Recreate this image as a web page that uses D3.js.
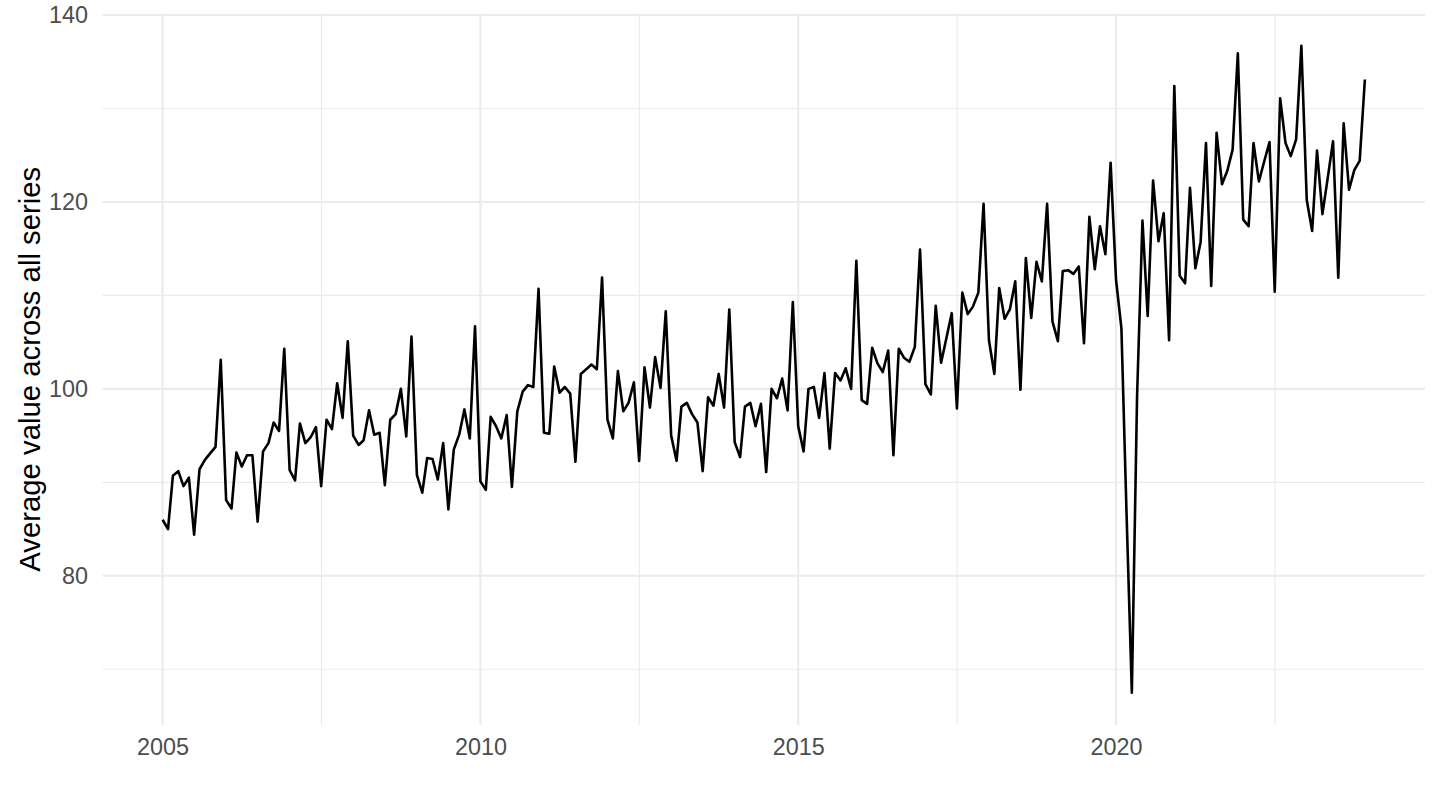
<!DOCTYPE html>
<html>
<head>
<meta charset="utf-8">
<script src="https://cdn.jsdelivr.net/npm/d3@7"></script>
<style>
    body { margin: 0; background: #ffffff; }
    svg { display: block; font-family: "Liberation Sans", Arial, Helvetica, sans-serif; }
    .axis text { fill: #4d4d4d; font-size: 23.4px; }
    .axis path, .axis line { display: none; }
    .axis-title { fill: #000000; font-size: 29.3px; }
</style>
</head>
<body>
<div id="chart"></div>
<script>
// one row per year, Jan..Dec
const years = [2005, 2006, 2007, 2008, 2009, 2010, 2011, 2012, 2013, 2014,
    2015, 2016, 2017, 2018, 2019, 2020, 2021, 2022, 2023];
const monthlyValues = [
    [86.0, 85.0, 90.7, 91.2, 89.6, 90.5, 84.4, 91.4, 92.4, 93.1, 93.8, 103.1],
    [88.1, 87.2, 93.2, 91.7, 92.9, 92.9, 85.8, 93.3, 94.2, 96.4, 95.5, 104.3],
    [91.3, 90.2, 96.3, 94.2, 94.8, 95.9, 89.6, 96.7, 95.7, 100.6, 96.9, 105.1],
    [95.0, 94.0, 94.5, 97.7, 95.1, 95.3, 89.7, 96.7, 97.3, 100.0, 94.9, 105.6],
    [90.8, 88.9, 92.6, 92.5, 90.3, 94.2, 87.1, 93.5, 95.1, 97.8, 94.7, 106.7],
    [90.1, 89.2, 97.0, 96.0, 94.7, 97.2, 89.5, 97.6, 99.7, 100.4, 100.2, 110.7],
    [95.3, 95.2, 102.4, 99.6, 100.2, 99.5, 92.2, 101.6, 102.1, 102.6, 102.1, 111.9],
    [96.7, 94.7, 101.9, 97.6, 98.5, 100.7, 92.3, 102.3, 98.0, 103.4, 100.1, 108.3],
    [95.0, 92.3, 98.1, 98.5, 97.3, 96.4, 91.2, 99.1, 98.2, 101.6, 98.0, 108.5],
    [94.3, 92.7, 98.1, 98.5, 96.0, 98.4, 91.1, 100.0, 99.0, 101.1, 97.7, 109.3],
    [96.0, 93.3, 100.0, 100.2, 96.9, 101.7, 93.6, 101.7, 100.9, 102.2, 100.0, 113.7],
    [98.8, 98.4, 104.4, 102.7, 101.8, 104.1, 92.9, 104.3, 103.3, 102.9, 104.5, 114.9],
    [100.5, 99.4, 108.9, 102.8, 105.4, 108.1, 97.9, 110.3, 108.0, 108.8, 110.3, 119.8],
    [105.2, 101.6, 110.8, 107.5, 108.5, 111.5, 99.9, 114.0, 107.6, 113.6, 111.5, 119.8],
    [107.2, 105.1, 112.6, 112.7, 112.3, 113.1, 104.9, 118.4, 112.8, 117.4, 114.4, 124.2],
    [111.7, 106.5, 87.0, 67.5, 99.2, 118.0, 107.8, 122.3, 115.8, 118.8, 105.2, 132.4],
    [112.1, 111.3, 121.5, 112.9, 115.7, 126.3, 111.0, 127.4, 121.9, 123.3, 125.6, 135.9],
    [118.1, 117.4, 126.3, 122.2, 124.3, 126.4, 110.4, 131.1, 126.3, 124.9, 126.7, 136.7],
    [120.2, 116.9, 125.5, 118.7, 122.5, 126.5, 111.9, 128.4, 121.3, 123.4, 124.4, 133.1],
];
const xTickYears = [2005, 2010, 2015, 2020];
const xMinorYears = [2007.5, 2012.5, 2017.5, 2022.5];
const yTicks = [80, 100, 120, 140];
const yMinorTicks = [70, 90, 110, 130];
const yTitle = "Average value across all series";

class TimeLineChart {
    constructor(_config) {
        this.config = {
            parentElement: _config.parentElement,
            containerWidth: _config.containerWidth || 1440,
            containerHeight: _config.containerHeight || 810,
            margin: _config.margin || { top: 13.5, right: 15, bottom: 85, left: 102.5 },
            expand: 0.05,
        };
        this.initVis();
    }

    initVis() {
        let vis = this;

        vis.width = vis.config.containerWidth - vis.config.margin.left - vis.config.margin.right;
        vis.height = vis.config.containerHeight - vis.config.margin.top - vis.config.margin.bottom;

        vis.data = [];
        years.forEach((yr, i) => {
            monthlyValues[i].forEach((v, m) => {
                vis.data.push({ date: new Date(yr, m, 1), value: v });
            });
        });

        vis.svg = d3
            .select(vis.config.parentElement)
            .append("svg")
            .attr("width", vis.config.containerWidth)
            .attr("height", vis.config.containerHeight);

        vis.chart = vis.svg
            .append("g")
            .attr("transform", `translate(${vis.config.margin.left},${vis.config.margin.top})`);

        // ggplot-like 5% expansion on both axes
        const xExt = d3.extent(vis.data, (d) => d.date.getTime());
        const xPad = (xExt[1] - xExt[0]) * vis.config.expand;
        vis.xScale = d3.scaleTime()
            .domain([new Date(xExt[0] - xPad), new Date(xExt[1] + xPad)])
            .range([0, vis.width]);

        const yExt = d3.extent(vis.data, (d) => d.value);
        const yPad = (yExt[1] - yExt[0]) * vis.config.expand;
        vis.yScale = d3.scaleLinear()
            .domain([yExt[0] - yPad, yExt[1] + yPad])
            .range([vis.height, 0]);

        vis.renderVis();
    }

    yearToDate(y) {
        const yr = Math.floor(y);
        const start = new Date(yr, 0, 1).getTime();
        const end = new Date(yr + 1, 0, 1).getTime();
        return new Date(start + (end - start) * (y - yr));
    }

    renderVis() {
        let vis = this;
        const grid = vis.chart.append("g").attr("class", "grid");

        grid.selectAll(".y-minor")
            .data(yMinorTicks)
            .join("line")
            .attr("class", "y-minor")
            .attr("x1", 0)
            .attr("x2", vis.width)
            .attr("y1", (d) => vis.yScale(d))
            .attr("y2", (d) => vis.yScale(d))
            .attr("stroke", "#ebebeb")
            .attr("stroke-width", 1.1);

        grid.selectAll(".x-minor")
            .data(xMinorYears)
            .join("line")
            .attr("class", "x-minor")
            .attr("x1", (d) => vis.xScale(vis.yearToDate(d)))
            .attr("x2", (d) => vis.xScale(vis.yearToDate(d)))
            .attr("y1", 0)
            .attr("y2", vis.height)
            .attr("stroke", "#ebebeb")
            .attr("stroke-width", 1.1);

        grid.selectAll(".y-major")
            .data(yTicks)
            .join("line")
            .attr("class", "y-major")
            .attr("x1", 0)
            .attr("x2", vis.width)
            .attr("y1", (d) => vis.yScale(d))
            .attr("y2", (d) => vis.yScale(d))
            .attr("stroke", "#ebebeb")
            .attr("stroke-width", 2.1);

        grid.selectAll(".x-major")
            .data(xTickYears)
            .join("line")
            .attr("class", "x-major")
            .attr("x1", (d) => vis.xScale(new Date(d, 0, 1)))
            .attr("x2", (d) => vis.xScale(new Date(d, 0, 1)))
            .attr("y1", 0)
            .attr("y2", vis.height)
            .attr("stroke", "#ebebeb")
            .attr("stroke-width", 2.1);

        const line = d3.line()
            .x((d) => vis.xScale(d.date))
            .y((d) => vis.yScale(d.value));

        vis.chart.append("path")
            .datum(vis.data)
            .attr("fill", "none")
            .attr("stroke", "#000000")
            .attr("stroke-width", 2.6)
            .attr("stroke-linejoin", "round")
            .attr("stroke-linecap", "butt")
            .attr("d", line);

        vis.chart.append("g")
            .attr("class", "x-axis axis")
            .attr("transform", `translate(0,${vis.height})`)
            .call(d3.axisBottom(vis.xScale)
                .tickValues(xTickYears.map((d) => new Date(d, 0, 1)))
                .tickFormat(d3.timeFormat("%Y"))
                .tickSize(0)
                .tickPadding(13))
            .call((g) => g.selectAll("text").attr("font-family", null).attr("font-size", null));

        vis.chart.append("g")
            .attr("class", "y-axis axis")
            .call(d3.axisLeft(vis.yScale)
                .tickValues(yTicks)
                .tickSize(0)
                .tickPadding(14.5))
            .call((g) => g.selectAll("text").attr("font-family", null).attr("font-size", null));

        vis.svg.append("text")
            .attr("class", "axis-title")
            .attr("transform", `translate(40,${vis.config.margin.top + vis.height / 2}) rotate(-90)`)
            .attr("text-anchor", "middle")
            .text(yTitle);
    }
}

new TimeLineChart({ parentElement: "#chart" });
</script>
</body>
</html>
